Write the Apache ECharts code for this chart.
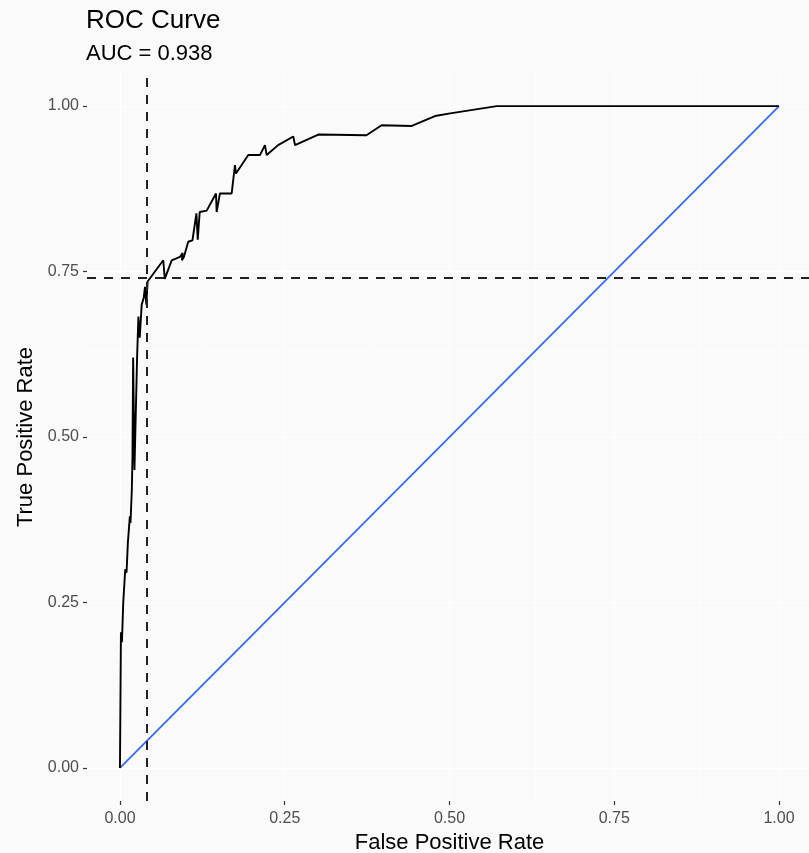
<!DOCTYPE html>
<html>
<head>
<meta charset="utf-8">
<title>ROC Curve</title>
<script src="https://cdn.jsdelivr.net/npm/echarts@6/dist/echarts.min.js"></script>
<style>
  html, body { margin: 0; padding: 0; background: #fafafa; }
  #chart { width: 809px; height: 853px; }
</style>
</head>
<body>
<div id="chart"></div>
<script>
// ROC curve points: false positive rate / true positive rate
const rocFpr = [
  0, 0.0015, 0.003, 0.005, 0.008, 0.010, 0.012, 0.015, 0.016, 0.018,
  0.019, 0.020, 0.022, 0.026, 0.028, 0.030, 0.033, 0.036, 0.038, 0.040,
  0.042, 0.0436, 0.0657, 0.068, 0.0785, 0.091, 0.095, 0.094, 0.097, 0.1036,
  0.110, 0.116, 0.118, 0.121, 0.1316, 0.1457, 0.1467, 0.1517, 0.1695, 0.1745,
  0.176, 0.1947, 0.2124, 0.220, 0.2226, 0.240, 0.263, 0.2656, 0.301, 0.374,
  0.397, 0.4427, 0.478, 0.501, 0.5716, 1
];
const rocTpr = [
  0, 0.205, 0.19, 0.25, 0.30, 0.295, 0.34, 0.38, 0.37, 0.42,
  0.47, 0.62, 0.45, 0.62, 0.682, 0.65, 0.70, 0.71, 0.727, 0.70,
  0.735, 0.737, 0.767, 0.739, 0.767, 0.772, 0.778, 0.767, 0.772, 0.795,
  0.797, 0.838, 0.798, 0.840, 0.842, 0.868, 0.840, 0.868, 0.868, 0.911,
  0.898, 0.926, 0.926, 0.941, 0.926, 0.941, 0.954, 0.941, 0.957, 0.956,
  0.971, 0.970, 0.985, 0.989, 1.0, 1.0
];

// Chance line
const chanceFpr = [0, 1];
const chanceTpr = [0, 1];

// Chosen operating point (threshold)
const cutFpr = 0.044;
const cutTpr = 0.739;

// Axis breaks
const majorBreaks = [0, 0.25, 0.5, 0.75, 1];
const minorBreaks = [0.125, 0.375, 0.625, 0.875];
const tickLabels = ['0.00', '0.25', '0.50', '0.75', '1.00'];

const titleText = 'ROC Curve';
const subtitleText = 'AUC = 0.938';
const xTitle = 'False Positive Rate';
const yTitle = 'True Positive Rate';

const FONT = "'Liberation Sans', Arial, sans-serif";

const zip = (xs, ys) => xs.map((x, i) => [x, ys[i]]);

const gridLines = [];
majorBreaks.forEach(v => {
  gridLines.push({ xAxis: v, lineStyle: { width: 1.2 } });
  gridLines.push({ yAxis: v, lineStyle: { width: 1.2 } });
});
minorBreaks.forEach(v => {
  gridLines.push({ xAxis: v, lineStyle: { width: 0.6 } });
  gridLines.push({ yAxis: v, lineStyle: { width: 0.6 } });
});

function axisCommon(name, isY) {
  return {
    type: 'value',
    min: -0.05,
    max: 1.05,
    name: name,
    nameLocation: 'middle',
    nameGap: isY ? 48 : 28,
    nameTextStyle: { fontFamily: FONT, fontSize: 22, color: '#000000' },
    axisLine: { show: false, onZero: false },
    splitLine: { show: false },
    axisTick: {
      show: true,
      length: 4,
      customValues: majorBreaks,
      lineStyle: { color: '#333333', width: 1.2 }
    },
    axisLabel: {
      customValues: majorBreaks,
      margin: isY ? 8 : 10,
      fontFamily: FONT,
      fontSize: 16,
      color: '#4d4d4d',
      formatter: v => tickLabels[majorBreaks.indexOf(v)] ?? v.toFixed(2)
    }
  };
}

const chart = echarts.init(document.getElementById('chart'), null, { renderer: 'canvas' });

chart.setOption({
  animation: false,
  backgroundColor: '#fafafa',
  title: [
    {
      text: titleText,
      left: 81,
      top: 3,
      textStyle: { fontFamily: FONT, fontSize: 26, fontWeight: 'normal', color: '#000000' }
    },
    {
      text: subtitleText,
      left: 81,
      top: 38,
      textStyle: { fontFamily: FONT, fontSize: 22, fontWeight: 'normal', color: '#000000' }
    }
  ],
  grid: {
    left: 87, top: 73, width: 725, height: 728,
    containLabel: false,
    outerBoundsMode: 'none'
  },
  xAxis: Object.assign(axisCommon(xTitle, false), { position: 'bottom' }),
  yAxis: Object.assign(axisCommon(yTitle, true), { position: 'left', nameRotate: 90 }),
  series: [
    {
      // panel grid lines
      type: 'line',
      data: zip(chanceFpr, chanceTpr),
      showSymbol: false,
      silent: true,
      z: 0,
      lineStyle: { opacity: 0, width: 0 },
      markLine: {
        silent: true,
        z: 0,
        symbol: 'none',
        label: { show: false },
        lineStyle: { color: '#ffffff', type: 'solid' },
        data: gridLines
      }
    },
    {
      type: 'line',
      name: 'chance',
      data: zip(chanceFpr, chanceTpr),
      showSymbol: false,
      z: 2,
      lineStyle: { color: '#3366ff', width: 1.7 }
    },
    {
      type: 'line',
      name: 'roc',
      data: zip(rocFpr, rocTpr),
      showSymbol: false,
      z: 3,
      lineStyle: { color: '#000000', width: 1.9 }
    },
    {
      // threshold reference lines
      type: 'line',
      data: [[cutFpr, cutTpr]],
      showSymbol: false,
      silent: true,
      z: 4,
      lineStyle: { opacity: 0 },
      markLine: {
        silent: true,
        z: 5,
        symbol: 'none',
        label: { show: false },
        lineStyle: { color: '#222222', type: [9, 8], width: 2 },
        data: [{ xAxis: cutFpr }, { yAxis: cutTpr }]
      }
    }
  ]
});
</script>
</body>
</html>
